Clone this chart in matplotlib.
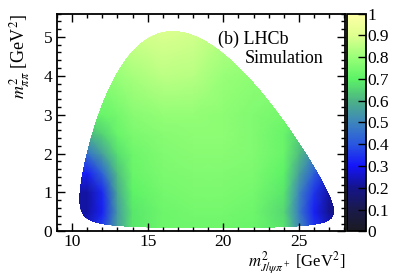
import numpy as np
import matplotlib
matplotlib.use("Agg")
import matplotlib.pyplot as plt
from matplotlib.colors import LinearSegmentedColormap
from matplotlib.patches import Polygon
from matplotlib.ticker import MultipleLocator

# masses (GeV) for the Bs -> J/psi pi+ pi- Dalitz boundary
m_bs = 5.36689
m_jpsi = 3.0969
m_pi = 0.13957

# efficiency table: rows follow y_nodes, columns x_nodes
x_nodes = [10, 11, 12, 13, 14, 16, 18, 20, 22, 24, 25, 26, 27, 28]
y_nodes = [0, 0.5, 1.0, 1.5, 2.0, 2.5, 3.0, 4.0, 5.3]
eff = [
    [0.30, 0.28, 0.38, 0.56, 0.68, 0.73, 0.73, 0.73, 0.72, 0.68, 0.52, 0.36, 0.28, 0.28],
    [0.22, 0.22, 0.32, 0.55, 0.68, 0.73, 0.74, 0.74, 0.73, 0.66, 0.48, 0.32, 0.20, 0.18],
    [0.22, 0.22, 0.33, 0.58, 0.70, 0.74, 0.75, 0.75, 0.74, 0.68, 0.50, 0.35, 0.22, 0.20],
    [0.32, 0.32, 0.43, 0.62, 0.72, 0.75, 0.76, 0.76, 0.75, 0.70, 0.56, 0.42, 0.30, 0.30],
    [0.46, 0.46, 0.56, 0.67, 0.73, 0.76, 0.77, 0.77, 0.76, 0.72, 0.62, 0.50, 0.45, 0.45],
    [0.60, 0.60, 0.65, 0.72, 0.75, 0.77, 0.78, 0.78, 0.76, 0.72, 0.65, 0.60, 0.60, 0.60],
    [0.72, 0.72, 0.72, 0.74, 0.77, 0.79, 0.79, 0.78, 0.76, 0.74, 0.72, 0.72, 0.72, 0.72],
    [0.78, 0.78, 0.78, 0.80, 0.82, 0.85, 0.84, 0.80, 0.78, 0.78, 0.78, 0.78, 0.78, 0.78],
    [0.85, 0.85, 0.86, 0.87, 0.89, 0.91, 0.89, 0.85, 0.84, 0.84, 0.84, 0.84, 0.84, 0.84],
]

cbar_ticks = [0, 0.1, 0.2, 0.3, 0.4, 0.5, 0.6, 0.7, 0.8, 0.9, 1]

plt.rcParams['font.family'] = ['Liberation Serif', 'DejaVu Serif']
plt.rcParams['mathtext.fontset'] = 'stix'

cmap = LinearSegmentedColormap.from_list('eff', [
    (0.0, (0.10, 0.10, 0.13)),
    (0.1, (0.10, 0.10, 0.30)),
    (0.2, (0.08, 0.08, 0.55)),
    (0.3, (0.08, 0.08, 0.98)),
    (0.4, (0.16, 0.34, 0.88)),
    (0.5, (0.24, 0.52, 0.74)),
    (0.6, (0.30, 0.70, 0.52)),
    (0.7, (0.36, 0.95, 0.40)),
    (0.8, (0.60, 1.00, 0.47)),
    (0.9, (0.87, 1.00, 0.56)),
    (1.0, (1.00, 1.00, 0.65)),
])

# kinematic boundary of the Dalitz plane
s_lo = (2 * m_pi) ** 2
s_hi = (m_bs - m_jpsi) ** 2
s = s_lo + (s_hi - s_lo) * np.linspace(0, 1, 3000) ** 1.5
rs = np.sqrt(s)
e_pi = rs / 2
e_j = (m_bs ** 2 - s - m_jpsi ** 2) / (2 * rs)
p_pi = np.sqrt(np.clip(e_pi ** 2 - m_pi ** 2, 0, None))
p_j = np.sqrt(np.clip(e_j ** 2 - m_jpsi ** 2, 0, None))
x_lo = (e_pi + e_j) ** 2 - (p_pi + p_j) ** 2
x_hi = (e_pi + e_j) ** 2 - (p_pi - p_j) ** 2
bx = np.concatenate([x_lo, x_hi[::-1]])
by = np.concatenate([s, s[::-1]])

fig = plt.figure(figsize=(4.07, 2.76), dpi=100)
ax = fig.add_axes([0.140, 0.162, 0.708, 0.789])
cax = fig.add_axes([0.8526, 0.162, 0.0467, 0.789])

mesh = ax.pcolormesh(x_nodes, y_nodes, np.array(eff), shading='gouraud',
                     cmap=cmap, vmin=0, vmax=1)
clip = Polygon(np.column_stack([bx, by]), closed=True, transform=ax.transData,
               facecolor='none', edgecolor='none')
ax.add_patch(clip)
mesh.set_clip_path(clip)

ax.set_xlim(9.0, 28.05)
ax.set_ylim(0, 5.6)
ax.xaxis.set_major_locator(MultipleLocator(5))
ax.xaxis.set_minor_locator(MultipleLocator(1))
ax.yaxis.set_major_locator(MultipleLocator(1))
ax.yaxis.set_minor_locator(MultipleLocator(0.2))
ax.tick_params(which='both', direction='in', top=True, right=True, labelsize=12.5, width=1.0)
ax.tick_params(which='major', length=6)
ax.tick_params(which='minor', length=3)
ax.tick_params(axis='x', pad=2)
for sp in ax.spines.values():
    sp.set_linewidth(1.3)

ax.set_xlabel(r'$m^2_{J/\psi\pi^+}$ [GeV$^2$]', fontsize=12, loc='right', labelpad=-0.5)
ax.set_ylabel(r'$m^2_{\pi\pi}$ [GeV$^2$]', fontsize=13, loc='top', labelpad=8)

ax.text(0.56, 0.86, '(b) LHCb', transform=ax.transAxes, fontsize=13, va='baseline')
ax.text(0.65, 0.775, 'Simulation', transform=ax.transAxes, fontsize=13, va='baseline')

cb = fig.colorbar(mesh, cax=cax, ticks=cbar_ticks)
cb.ax.set_yticklabels(['0', '0.1', '0.2', '0.3', '0.4', '0.5', '0.6', '0.7', '0.8', '0.9', '1'])
cb.ax.tick_params(direction='in', length=5.5, width=1.0, labelsize=12.5, pad=1)
cb.outline.set_linewidth(1.3)

fig.savefig('out.png', dpi=100)
